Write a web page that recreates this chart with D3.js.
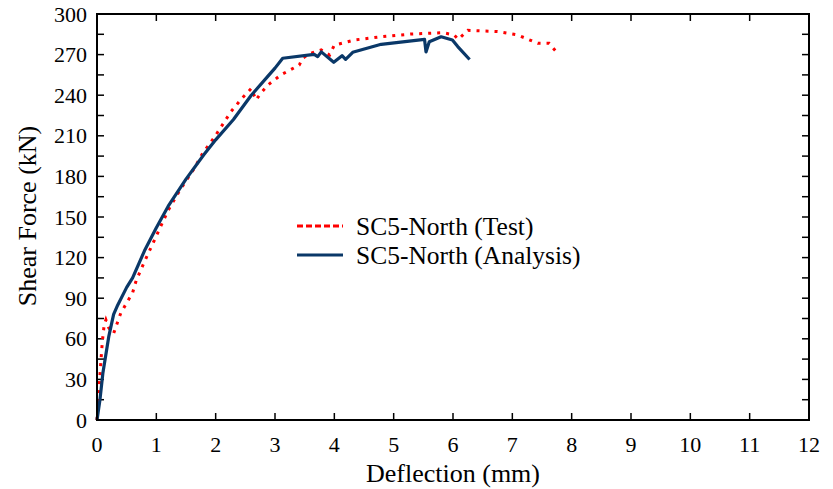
<!DOCTYPE html>
<html><head><meta charset="utf-8">
<script src="https://cdn.jsdelivr.net/npm/d3@7"></script>
<style>body{margin:0;background:#fff}svg{display:block}text{font-family:"Liberation Serif","Times New Roman",serif}</style>
</head><body>
<svg id="c" width="833" height="489"></svg>
<script>
const xTicks = [0,1,2,3,4,5,6,7,8,9,10,11,12];
const yTicks = [0,30,60,90,120,150,180,210,240,270,300];
const seriesNames = ["SC5-North (Test)", "SC5-North (Analysis)"];
const testDefl = [0,0.03,0.06,0.09,0.12,0.15,0.2,0.28,0.4,0.6,0.66,0.8,1.0,1.2,1.4,1.64,1.78,1.98,2.26,2.45,2.6,2.68,2.76,2.88,3.1,3.27,3.41,3.46,3.6,3.78,3.92,4.0,4.34,4.79,5.29,5.83,6.02,6.09,6.25,6.75,7.09,7.43,7.62,7.76];
const testForce = [0,20,40,58,70,74,68,64,79,94,103,117,136,155,170,186,197,209,228,238,245,236.5,241.4,247.5,255,259,262.3,267.2,271,273.4,269.7,277,280.8,283.2,285.2,286.2,284.5,281.3,287.9,287,284.5,278.3,278.3,271];
const anaDefl = [0,0.05,0.1,0.2,0.28,0.35,0.5,0.6,0.8,1.0,1.2,1.5,1.8,2.0,2.3,2.6,2.9,3.0,3.13,3.66,3.72,3.78,3.99,4.13,4.19,4.31,4.79,5.52,5.545,5.6,5.8,5.99,6.08,6.28];
const anaForce = [0,15,35,62,78,85,98,105,125,142,158,178,196,207,222,240,255,260,267.3,270.2,268.5,272,264.3,269.2,266.5,271.7,277.6,281.3,272,279.5,283.2,280.8,275.9,266.4];

const svg = d3.select("#c");
const L=97,R=809,T=14,B=420;
const x = d3.scaleLinear().domain([0,12]).range([L,R]);
const y = d3.scaleLinear().domain([0,300]).range([B,T]);
const minorY = d3.range(0,301,15);

const g = svg.append("g");
const tk = 7;
g.selectAll(".xb").data(xTicks).join("line").attr("x1",d=>x(d)).attr("x2",d=>x(d)).attr("y1",B).attr("y2",B-tk).attr("stroke","#000").attr("stroke-width",1.5);
g.selectAll(".xt").data(xTicks).join("line").attr("x1",d=>x(d)).attr("x2",d=>x(d)).attr("y1",T).attr("y2",T+tk).attr("stroke","#000").attr("stroke-width",1.5);
g.selectAll(".yl").data(minorY).join("line").attr("x1",L).attr("x2",L+tk).attr("y1",d=>y(d)).attr("y2",d=>y(d)).attr("stroke","#000").attr("stroke-width",1.5);
g.selectAll(".yr").data(minorY).join("line").attr("x1",R).attr("x2",R-tk).attr("y1",d=>y(d)).attr("y2",d=>y(d)).attr("stroke","#000").attr("stroke-width",1.5);

g.selectAll(".xlab").data(xTicks).join("text").attr("x",d=>x(d)).attr("y",452).attr("text-anchor","middle").attr("font-size",22).text(d=>d);
g.selectAll(".ylab").data(yTicks).join("text").attr("x",87).attr("y",d=>y(d)+7.5).attr("text-anchor","end").attr("font-size",22).text(d=>d);

svg.append("text").attr("x",(L+R)/2).attr("y",482).attr("text-anchor","middle").attr("font-size",26).text("Deflection (mm)");
svg.append("text").attr("transform",`translate(36,216) rotate(-90)`).attr("text-anchor","middle").attr("font-size",26).text("Shear Force (kN)");

const line = d3.line().x(d=>x(d[0])).y(d=>y(d[1]));
const testPts = testDefl.map((d,i)=>[d,testForce[i]]);
const anaPts = anaDefl.map((d,i)=>[d,anaForce[i]]);
svg.append("path").attr("d",line(testPts)).attr("fill","none").attr("stroke","#ff0000").attr("stroke-width",3).attr("stroke-dasharray","3,6");
svg.append("path").attr("d",line(anaPts)).attr("fill","none").attr("stroke","#0a3868").attr("stroke-width",3.2).attr("stroke-linejoin","round");

svg.append("rect").attr("x",L).attr("y",T).attr("width",R-L).attr("height",B-T).attr("fill","none").attr("stroke","#000").attr("stroke-width",2);

const lg = svg.append("g");
lg.append("line").attr("x1",297).attr("x2",343).attr("y1",226).attr("y2",226).attr("stroke","#ff0000").attr("stroke-width",3).attr("stroke-dasharray","6,3");
lg.append("line").attr("x1",297).attr("x2",343).attr("y1",255).attr("y2",255).attr("stroke","#0a3868").attr("stroke-width",3.2);
lg.append("text").attr("x",356).attr("y",235).attr("font-size",25.5).text(seriesNames[0]);
lg.append("text").attr("x",356).attr("y",264).attr("font-size",25.5).text(seriesNames[1]);
</script>
</body></html>
